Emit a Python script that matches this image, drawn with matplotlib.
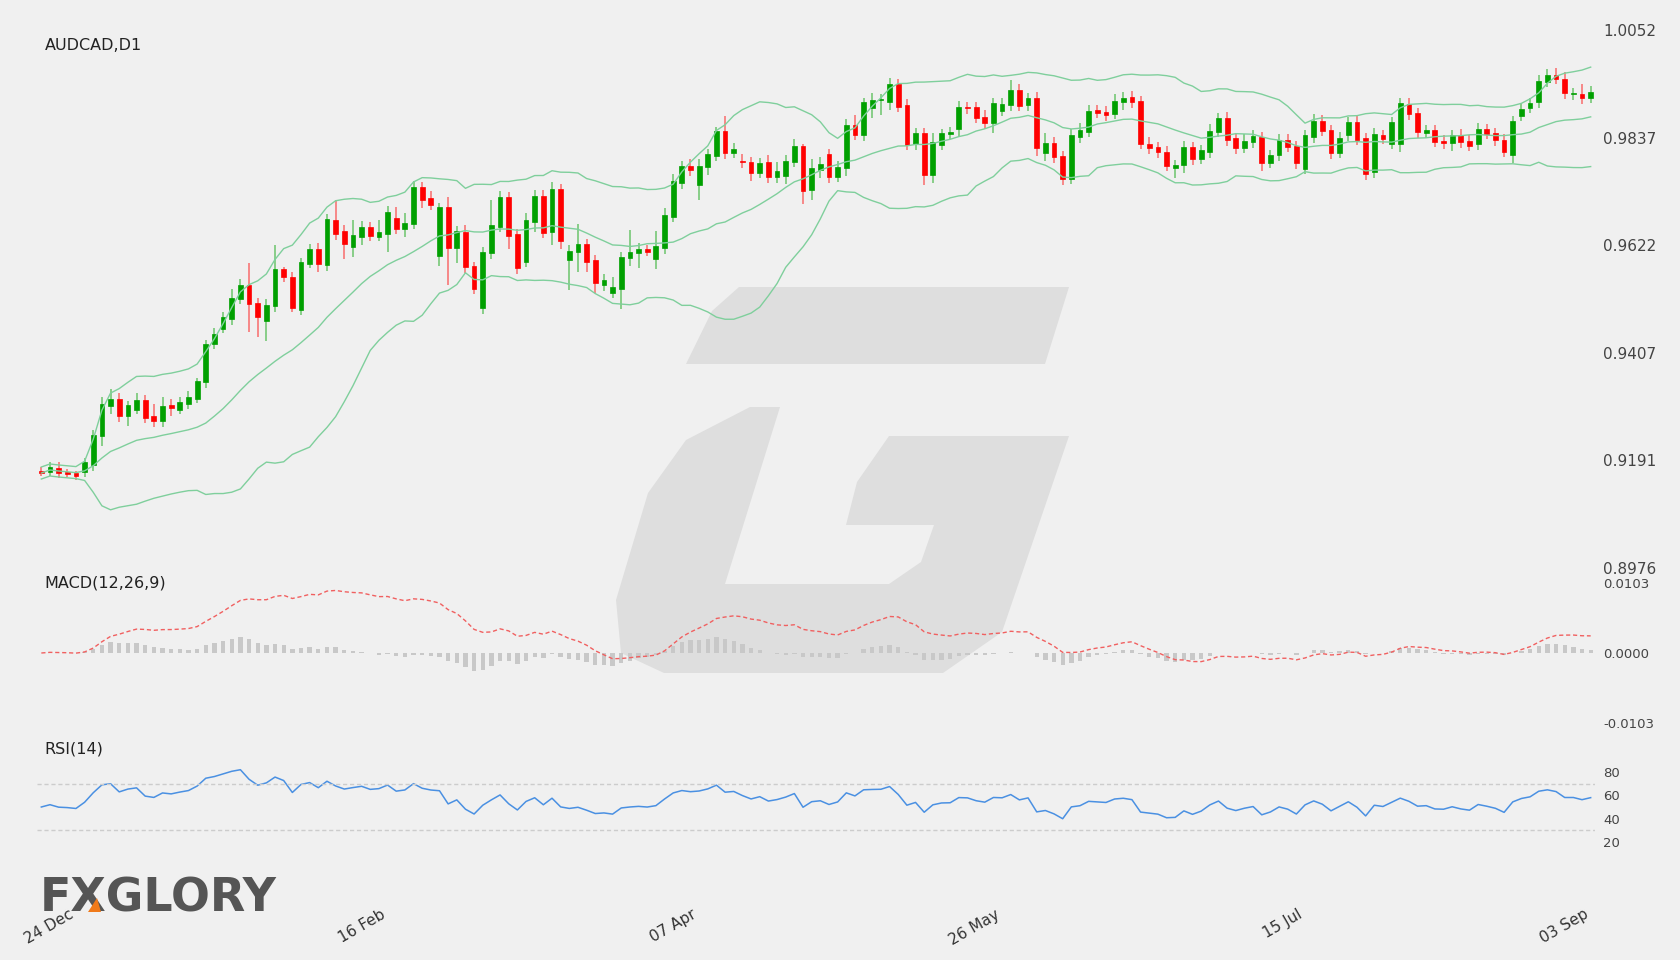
import numpy as np
import pandas as pd
import matplotlib
matplotlib.use("Agg")
import matplotlib.pyplot as plt
from matplotlib.patches import Polygon

BG = "#f0f0f0"
GREEN = "#00a000"
RED = "#ff0000"
BAND = "#7fcf9c"

# ---- data --------------------------------------------------------------
opens = [
    0.9170, 0.9168, 0.9176, 0.9168, 0.9166, 0.9168, 0.9182, 0.9240, 0.9300, 0.9314,
    0.9280, 0.9292, 0.9312, 0.9280, 0.9270, 0.9302, 0.9292, 0.9304, 0.9314, 0.9348,
    0.9424, 0.9454, 0.9474, 0.9514, 0.9542, 0.9506, 0.9470, 0.9500, 0.9574, 0.9558,
    0.9492, 0.9584, 0.9614, 0.9582, 0.9672, 0.9650, 0.9618, 0.9638, 0.9658, 0.9638,
    0.9644, 0.9676, 0.9654, 0.9664, 0.9738, 0.9716, 0.9600, 0.9698, 0.9616, 0.9648,
    0.9580, 0.9496, 0.9606, 0.9658, 0.9718, 0.9644, 0.9588, 0.9668, 0.9720, 0.9648,
    0.9734, 0.9592, 0.9608, 0.9624, 0.9592, 0.9542, 0.9526, 0.9534, 0.9596, 0.9606,
    0.9614, 0.9594, 0.9616, 0.9678, 0.9746, 0.9780, 0.9742, 0.9778, 0.9800, 0.9850,
    0.9806, 0.9790, 0.9788, 0.9766, 0.9788, 0.9758, 0.9760, 0.9788, 0.9820, 0.9732,
    0.9772, 0.9804, 0.9758, 0.9776, 0.9862, 0.9842, 0.9896, 0.9912, 0.9908, 0.9944,
    0.9902, 0.9824, 0.9846, 0.9762, 0.9822, 0.9844, 0.9854, 0.9898, 0.9898, 0.9878,
    0.9866, 0.9890, 0.9902, 0.9932, 0.9902, 0.9916, 0.9806, 0.9826, 0.9800, 0.9754,
    0.9838, 0.9848, 0.9892, 0.9888, 0.9884, 0.9908, 0.9918, 0.9910, 0.9824, 0.9818,
    0.9808, 0.9776, 0.9782, 0.9818, 0.9794, 0.9808, 0.9848, 0.9876, 0.9836, 0.9816,
    0.9828, 0.9838, 0.9786, 0.9802, 0.9832, 0.9820, 0.9774, 0.9838, 0.9870, 0.9852,
    0.9806, 0.9842, 0.9868, 0.9836, 0.9768, 0.9842, 0.9824, 0.9824, 0.9904, 0.9886,
    0.9846, 0.9852, 0.9830, 0.9826, 0.9842, 0.9830, 0.9824, 0.9854, 0.9846, 0.9832,
    0.9802, 0.9880, 0.9896, 0.9908, 0.9948, 0.9962, 0.9954, 0.9924, 0.9924, 0.9916,
]
closes = [
    0.9166, 0.9178, 0.9166, 0.9164, 0.9160, 0.9188, 0.9242, 0.9304, 0.9314, 0.9280,
    0.9302, 0.9312, 0.9276, 0.9270, 0.9300, 0.9296, 0.9308, 0.9318, 0.9350, 0.9424,
    0.9444, 0.9478, 0.9516, 0.9542, 0.9504, 0.9478, 0.9502, 0.9574, 0.9558, 0.9496,
    0.9588, 0.9614, 0.9584, 0.9674, 0.9644, 0.9624, 0.9642, 0.9658, 0.9640, 0.9648,
    0.9688, 0.9654, 0.9666, 0.9738, 0.9712, 0.9702, 0.9698, 0.9616, 0.9650, 0.9578,
    0.9534, 0.9608, 0.9662, 0.9718, 0.9640, 0.9576, 0.9672, 0.9720, 0.9646, 0.9734,
    0.9630, 0.9610, 0.9624, 0.9588, 0.9546, 0.9552, 0.9538, 0.9598, 0.9608, 0.9614,
    0.9608, 0.9620, 0.9682, 0.9750, 0.9780, 0.9772, 0.9780, 0.9804, 0.9850, 0.9806,
    0.9814, 0.9788, 0.9766, 0.9786, 0.9758, 0.9770, 0.9790, 0.9820, 0.9730, 0.9776,
    0.9784, 0.9758, 0.9778, 0.9862, 0.9842, 0.9908, 0.9912, 0.9914, 0.9944, 0.9898,
    0.9822, 0.9846, 0.9762, 0.9828, 0.9846, 0.9848, 0.9898, 0.9896, 0.9876, 0.9866,
    0.9906, 0.9904, 0.9932, 0.9900, 0.9916, 0.9816, 0.9826, 0.9798, 0.9754, 0.9842,
    0.9852, 0.9890, 0.9886, 0.9882, 0.9910, 0.9916, 0.9908, 0.9824, 0.9816, 0.9808,
    0.9780, 0.9782, 0.9818, 0.9794, 0.9812, 0.9850, 0.9876, 0.9832, 0.9816, 0.9830,
    0.9840, 0.9786, 0.9802, 0.9832, 0.9818, 0.9786, 0.9842, 0.9870, 0.9850, 0.9806,
    0.9836, 0.9868, 0.9832, 0.9764, 0.9844, 0.9834, 0.9868, 0.9906, 0.9884, 0.9848,
    0.9852, 0.9828, 0.9826, 0.9842, 0.9828, 0.9820, 0.9854, 0.9844, 0.9832, 0.9808,
    0.9870, 0.9894, 0.9906, 0.9950, 0.9962, 0.9954, 0.9926, 0.9926, 0.9916, 0.9928,
]
# wick lengths beyond the body, in pips (0.0001)
wick_up = [
    8, 10, 12, 6, 5, 8, 10, 15, 20, 12, 8, 15, 10, 25, 18, 12, 10, 12, 6, 8,
    12, 10, 18, 12, 45, 10, 12, 48, 5, 10, 8, 10, 12, 10, 40, 12, 30, 12, 10, 25,
    12, 22, 20, 12, 10, 15, 8, 20, 10, 15, 8, 10, 50, 12, 10, 10, 15, 12, 12, 15,
    10, 12, 40, 10, 10, 12, 20, 10, 45, 12, 8, 30, 15, 15, 10, 14, 15, 10, 8, 30,
    12, 15, 10, 10, 15, 18, 12, 15, 5, 18, 14, 10, 12, 12, 20, 8, 15, 10, 12, 10,
    12, 10, 10, 18, 8, 10, 12, 10, 10, 15, 10, 12, 20, 12, 10, 12, 20, 12, 10, 12,
    15, 12, 10, 12, 15, 12, 12, 10, 15, 10, 12, 10, 12, 10, 10, 15, 10, 12, 10, 15,
    12, 10, 10, 12, 12, 10, 10, 15, 12, 10, 12, 10, 15, 10, 12, 10, 10, 10, 12, 10,
    10, 10, 12, 10, 12, 12, 12, 10, 10, 12, 10, 10, 10, 12, 12, 15, 15, 10, 20, 12,
]
wick_dn = [
    6, 8, 10, 6, 8, 10, 12, 20, 15, 12, 20, 8, 10, 12, 12, 15, 8, 10, 8, 12,
    10, 8, 12, 10, 55, 40, 40, 12, 10, 8, 10, 8, 15, 12, 12, 30, 20, 15, 10, 8,
    35, 10, 15, 10, 15, 10, 20, 74, 30, 12, 10, 12, 12, 10, 25, 12, 10, 20, 10, 25,
    15, 60, 40, 20, 20, 12, 10, 40, 15, 30, 8, 20, 12, 10, 12, 12, 30, 15, 10, 12,
    10, 12, 15, 10, 12, 12, 15, 10, 25, 20, 15, 12, 10, 15, 10, 12, 20, 30, 15, 10,
    10, 12, 20, 15, 10, 10, 15, 12, 10, 12, 20, 10, 12, 10, 12, 15, 15, 12, 12, 10,
    12, 10, 10, 12, 10, 15, 12, 10, 12, 12, 10, 20, 15, 12, 10, 12, 10, 12, 12, 10,
    12, 15, 10, 12, 10, 12, 10, 12, 10, 12, 10, 12, 10, 12, 12, 10, 10, 15, 12, 12,
    10, 10, 12, 15, 12, 10, 12, 10, 12, 10, 15, 10, 10, 12, 10, 10, 12, 12, 12, 10,
]
tick_bars = [4, 40, 76, 111, 146, 179]
tick_labels = ["24 Dec", "16 Feb", "07 Apr", "26 May", "15 Jul", "03 Sep"]
price_ticks = [1.0052, 0.9837, 0.9622, 0.9407, 0.9191, 0.8976]
macd_ticks = [0.0103, 0.0, -0.0103]
rsi_ticks = [20, 40, 60, 80]

o = np.array(opens)
c = np.array(closes)
hi = np.maximum(o, c) + np.array(wick_up) * 1e-4
lo = np.minimum(o, c) - np.array(wick_dn) * 1e-4
x = np.arange(len(c))

# ---- indicators --------------------------------------------------------
s = pd.Series(c)
mid = s.rolling(20, min_periods=1).mean()
sd = s.rolling(20, min_periods=5).std(ddof=0).bfill()
upper, lower = mid + 2 * sd, mid - 2 * sd
macd = s.ewm(span=12, adjust=False).mean() - s.ewm(span=26, adjust=False).mean()
signal = macd.ewm(span=9, adjust=False).mean()
hist = macd - signal

# Wilder RSI, started from a neutral state (equal average gain / loss)
d = np.diff(c, prepend=c[0])
ag = al = 0.0012
rsi = []
for v in d:
    ag = (ag * 13 + max(v, 0)) / 14
    al = (al * 13 + max(-v, 0)) / 14
    rsi.append(100 - 100 / (1 + ag / al))

# ---- figure ------------------------------------------------------------
fig = plt.figure(figsize=(16.8, 9.6), dpi=100, facecolor=BG)


def px(xp, yp):
    return xp / 1680, 1 - yp / 960


# watermark logo
wm = "#dedede"
bar_pts = [(686, 364), (712, 311), (739, 287), (1069, 287), (1045, 364)]
g_pts = [(780, 407), (750, 407), (686, 440), (648, 493), (616, 600), (621, 653),
         (664, 673), (943, 673), (1002, 632), (1069, 436), (889, 436), (857, 482),
         (846, 525), (934, 525), (921, 562), (889, 584), (725, 584)]
for pts in (bar_pts, g_pts):
    fig.add_artist(Polygon([px(*p) for p in pts], closed=True, facecolor=wm,
                           edgecolor="none", transform=fig.transFigure, zorder=0))

left, right = 37 / 1680, 1595 / 1680
ax = fig.add_axes([left, 1 - 568 / 960, right - left, (568 - 30) / 960])
ax2 = fig.add_axes([left, 1 - 723 / 960, right - left, (723 - 583) / 960], sharex=ax)
ax3 = fig.add_axes([left, 1 - 865 / 960, right - left, (865 - 749) / 960], sharex=ax)

for a in (ax, ax2, ax3):
    a.set_facecolor("none")
    for sp in a.spines.values():
        sp.set_visible(False)
    a.yaxis.tick_right()
    a.tick_params(axis="y", length=0, labelcolor="#444", pad=6)
    a.tick_params(axis="x", length=0)
    a.set_zorder(2)

# candles
wcol = np.where(c >= o, GREEN, RED)
ax.vlines(x, lo, hi, colors=wcol, lw=1.1, alpha=0.55)
ax.bar(x, np.abs(c - o) + 2e-5, bottom=np.minimum(o, c), width=0.55,
       color=wcol, edgecolor=wcol, lw=0.5)
for band in (upper, mid, lower):
    ax.plot(x, band, color=BAND, lw=1.0)
ax.set_ylim(0.8976, 1.0052)
ax.set_yticks(price_ticks)
ax.set_yticklabels([f"{v:.4f}" for v in price_ticks], fontsize=11)
ax.set_xlim(-0.5, len(c) - 0.5)
ax.text(0.005, 0.985, "AUDCAD,D1", transform=ax.transAxes, fontsize=11.5,
        color="#222", va="top")

# MACD
ax2.bar(x, hist, width=0.5, color="#c8c8c8")
ax2.plot(x, macd, color="#f06060", lw=1.0, ls=(0, (3, 2)))
ax2.set_ylim(-0.0103, 0.0103)
ax2.set_yticks(macd_ticks)
ax2.set_yticklabels([f"{v:.4f}" for v in macd_ticks], fontsize=9.5)
ax2.text(0.005, 1.0, "MACD(12,26,9)", transform=ax2.transAxes, fontsize=11.5,
         color="#222", va="center")

# RSI
ax3.plot(x, rsi, color="#4a90e2", lw=1.1)
for lvl in (70, 30):
    ax3.axhline(lvl, color="#cccccc", lw=1, ls=(0, (3, 2)))
ax3.set_ylim(0, 100)
ax3.set_yticks(rsi_ticks)
ax3.set_yticklabels([str(v) for v in rsi_ticks], fontsize=9.5)
ax3.text(0.005, 1.0, "RSI(14)", transform=ax3.transAxes, fontsize=11.5,
         color="#222", va="center")

ax3.set_xticks(tick_bars)
ax3.set_xticklabels(tick_labels, rotation=30, ha="right", fontsize=11, color="#333")
ax3.tick_params(axis="x", pad=30)
plt.setp(ax.get_xticklabels(), visible=False)
plt.setp(ax2.get_xticklabels(), visible=False)

# brand
fig.text(40 / 1680, 1 - 912 / 960, "FXGLORY", fontsize=33, weight="bold",
         color="#555555", family="DejaVu Sans", va="baseline")
fig.add_artist(Polygon([px(88, 912), px(101, 912), px(97, 898)], closed=True,
                       facecolor="#f07a1a", edgecolor="none",
                       transform=fig.transFigure, zorder=5))

fig.savefig("out.png", dpi=100, facecolor=BG)
